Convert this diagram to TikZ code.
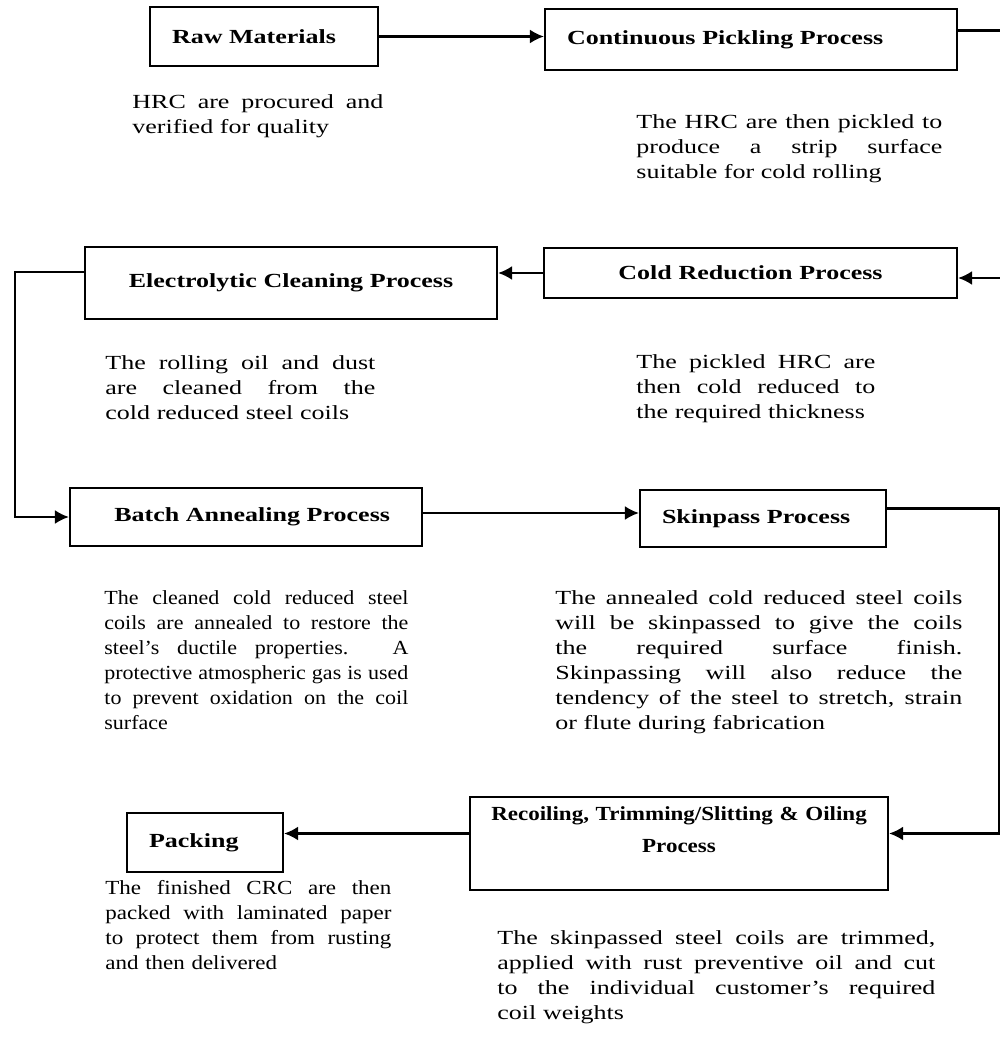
\documentclass[tikz,border=0pt]{standalone}
\usepackage{fontspec}
\setmainfont[FakeStretch=1.3]{Liberation Serif}
\newfontfamily\slimfont[FakeStretch=1.15]{Liberation Serif}
\newfontfamily\tightfont[FakeStretch=1.1]{Liberation Serif}
\usetikzlibrary{positioning,arrows.meta}
\newcommand{\fillline}[1]{\makebox[\hsize][s]{\spaceskip=0pt\xspaceskip=0pt #1}\\}

\begin{document}
\begin{tikzpicture}[x=0.5pt,y=-0.5pt,
	stepbox/.style={draw,line width=1.1pt,font=\fontsize{10}{12}\selectfont\bfseries,inner xsep=11pt,inner ysep=0pt},
	note/.style={anchor=base west,inner sep=0pt,align=left,font=\fontsize{10}{12.5}\selectfont},
	flow/.style={line width=1.1pt,-{Latex[length=7pt,width=7pt]}}]
\useasboundingbox (0,0) rectangle (1000,1043);
% process boxes
\node[stepbox,text width=92pt,align=left,minimum height=29.5pt] (raw) at (264,36.5) {Raw Materials};
\node[stepbox,text width=184pt,align=left,minimum height=30.5pt] (pick) at (751,39.5) {Continuous Pickling Process};
\node[stepbox,text width=184pt,align=center,minimum height=36pt] (elec) at (291,283) {Electrolytic Cleaning Process};
\node[stepbox,text width=184.5pt,align=center,minimum height=25pt] (cold) at (750.5,273) {Cold Reduction Process};
\node[stepbox,inner xsep=16pt,text width=144pt,align=right,minimum height=29pt] (batch) at (246,517) {Batch Annealing Process};
\node[stepbox,text width=101pt,align=left,minimum height=28.5pt] (skin) at (763,518.5) {Skinpass Process};
\node[stepbox,font=\fontsize{10}{16}\selectfont\slimfont\bfseries,inner xsep=4pt,text width=201pt,align=center,text height=7pt,text depth=30pt,minimum height=46.5pt] (recoil) at (679,843.5) {Recoiling, Trimming/Slitting \& Oiling\\Process};
\node[stepbox,text width=56pt,align=left,minimum height=29.5pt] (pack) at (205,842.5) {Packing};
% rails for the bends
\coordinate (rtop) at (1003,0);
\coordinate (rbot) at (999,0);
\coordinate (lrail) at (15,0);
% connectors
\draw[flow] (raw.east) -- (raw.east -| pick.west);
\draw[flow] ([yshift=4.5pt]pick.east) -- ([yshift=4.5pt]pick.east -| rtop) |- ([yshift=-2.5pt]cold.east);
\draw[flow] (cold.west) -- (cold.west -| elec.east);
\draw[flow] ([yshift=5.5pt]elec.west) -- ([yshift=5.5pt]elec.west -| lrail) |- (batch.west);
\draw[flow] ([yshift=2pt]batch.east) -- ([yshift=2pt]batch.east -| skin.west);
\draw[flow] ([yshift=5pt]skin.east) -- ([yshift=5pt]skin.east -| rbot) |- ([yshift=5pt]recoil.east);
\draw[flow] ([yshift=5pt]recoil.west) -- ([yshift=5pt]recoil.west -| pack.east);
% descriptions
\node[note,text width=125.5pt] (dRaw) at (132,109) {\fillline{HRC are procured and} verified for quality};
\node[note,text width=153pt] (dPick) at (636,129) {\fillline{The HRC are then pickled to}\fillline{produce a strip surface} suitable for cold rolling};
\node[note,text width=135pt] (dElec) at (105,369) {\fillline{The rolling oil and dust}\fillline{are cleaned from the} cold reduced steel coils};
\node[note,text width=119.5pt] (dCold) at (636,368) {\fillline{The pickled HRC are}\fillline{then cold reduced to} the required thickness};
\node[note,text width=152pt,font=\fontsize{10}{12.5}\selectfont\tightfont] (dBatch) at (104,604) {\fillline{The cleaned cold reduced steel}\fillline{coils are annealed to restore the}\fillline{steel’s ductile properties. A}\fillline{protective atmospheric gas is used}\fillline{to prevent oxidation on the coil} surface};
\node[note,text width=203.5pt] (dSkin) at (555,604) {\fillline{The annealed cold reduced steel coils}\fillline{will be skinpassed to give the coils}\fillline{the required surface finish.}\fillline{Skinpassing will also reduce the}\fillline{tendency of the steel to stretch, strain} or flute during fabrication};
\node[note,text width=143pt,font=\fontsize{10}{12.5}\selectfont\slimfont] (dPack) at (105,894) {\fillline{The finished CRC are then}\fillline{packed with laminated paper}\fillline{to protect them from rusting} and then delivered};
\node[note,text width=219pt] (dRecoil) at (497,944) {\fillline{The skinpassed steel coils are trimmed,}\fillline{applied with rust preventive oil and cut}\fillline{to the individual customer’s required} coil weights};
\end{tikzpicture}
\end{document}
